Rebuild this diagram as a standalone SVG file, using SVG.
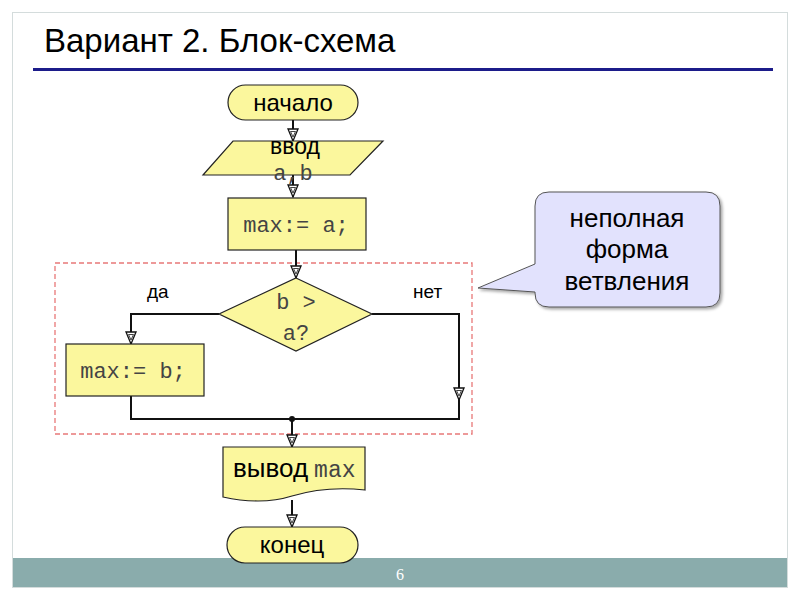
<svg xmlns="http://www.w3.org/2000/svg" width="800" height="600" viewBox="0 0 800 600">
<defs>
<style>
.blk{fill:#fbf79d;stroke:#222;stroke-width:1.2}
.ln{fill:none;stroke:#111;stroke-width:2}
.sans{font-family:"Liberation Sans",Arial,sans-serif;fill:#000}
.mono{font-family:"Liberation Mono","Courier New",monospace;fill:#444}
</style>
<marker id="arr" viewBox="0 0 14 12" refX="13" refY="6" markerWidth="14" markerHeight="12" markerUnits="userSpaceOnUse" orient="auto">
<path d="M1,1 L13,6 L1,11 Z" fill="#fff" stroke="#111" stroke-width="1.3"/>
<path d="M3.5,3.5 L9,6 L3.5,8.5 Z" fill="none" stroke="#111" stroke-width="0.8"/>
</marker>
<filter id="sh" x="-10%" y="-10%" width="130%" height="130%">
<feDropShadow dx="2" dy="2" stdDeviation="1.5" flood-color="#000" flood-opacity="0.35"/>
</filter>
</defs>
<rect x="0" y="0" width="800" height="600" fill="#fff"/>
<rect x="12.5" y="12.5" width="775" height="575" fill="#fff" stroke="#d4dcdc" stroke-width="1"/>
<rect x="13" y="558" width="774" height="29" fill="#8aacac"/>
<text x="400" y="580" font-family="'Liberation Serif',serif" font-size="16" fill="#fff" text-anchor="middle">6</text>
<text x="44" y="52" class="sans" font-size="33">Вариант 2. Блок-схема</text>
<rect x="33" y="68" width="740" height="3" fill="#1c1c8a"/>

<rect x="55" y="263" width="417" height="171" fill="none" stroke="#e87878" stroke-width="1.3" stroke-dasharray="5,3"/>

<g id="connectors">
<path class="ln" d="M293,120 V141" marker-end="url(#arr)"/>
<path class="ln" d="M293,175 V197" marker-end="url(#arr)"/>
<path class="ln" d="M296,250 V278" marker-end="url(#arr)"/>
<path class="ln" d="M219,314 H131 V344" marker-end="url(#arr)"/>
<path class="ln" d="M372,314 H459 V400" marker-end="url(#arr)"/>
<path class="ln" d="M131,396 V419 H459 V398"/>
<path class="ln" d="M292,419 V447" marker-end="url(#arr)"/>
<circle cx="292" cy="419" r="3" fill="#111"/>
<path class="ln" d="M292,500 V527" marker-end="url(#arr)"/>
</g>

<g id="start">
<rect class="blk" x="228" y="85" width="130" height="35" rx="17.5"/>
<text x="293" y="111" class="sans" font-size="24" text-anchor="middle">начало</text>
</g>
<g id="input">
<polygon class="blk" points="233,141 383,141 350,175 203,175"/>
<text x="295" y="154" class="sans" font-size="23" text-anchor="middle">ввод</text>
<text x="293" y="180" class="mono" font-size="22" text-anchor="middle">a,b</text>
</g>
<g id="assignA">
<rect class="blk" x="228" y="198" width="138" height="52"/>
<text x="296" y="232" class="mono" font-size="22" text-anchor="middle">max:= a;</text>
</g>
<g id="cond">
<polygon class="blk" points="296,278 372,314 296,351 219,314"/>
<text x="296" y="309" class="mono" font-size="22" text-anchor="middle">b &gt;</text>
<text x="296" y="340" class="mono" font-size="22" text-anchor="middle">a?</text>
</g>
<text x="147" y="298" class="sans" font-size="19">да</text>
<text x="413" y="298" class="sans" font-size="19">нет</text>
<g id="assignB">
<rect class="blk" x="66" y="344" width="138" height="52"/>
<text x="133" y="378" class="mono" font-size="22" text-anchor="middle">max:= b;</text>
</g>
<g id="output">
<path class="blk" d="M223,447 H365 V490 C338,487 312,490 292,496 C270,503 246,502 223,497 Z"/>
<text x="233" y="477" font-size="26"><tspan class="sans">вывод</tspan><tspan class="mono" font-size="23" dx="6">max</tspan></text>
</g>
<g id="end">
<rect class="blk" x="227" y="527" width="131" height="36" rx="18"/>
<text x="292" y="553" class="sans" font-size="24" text-anchor="middle">конец</text>
</g>
<g id="callout">
<path d="M549,192 H706 Q720,192 720,206 V293 Q720,307 706,307 H549 Q535,307 535,293 V292 L478,288 L535,264 V206 Q535,192 549,192 Z" fill="#e2e2fd" stroke="#555" stroke-width="1" filter="url(#sh)"/>
<text x="627" y="227" class="sans" font-size="26" fill="#222" text-anchor="middle">неполная</text>
<text x="627" y="258" class="sans" font-size="26" fill="#222" text-anchor="middle">форма</text>
<text x="627" y="290" class="sans" font-size="26" fill="#222" text-anchor="middle">ветвления</text>
</g>
</svg>
